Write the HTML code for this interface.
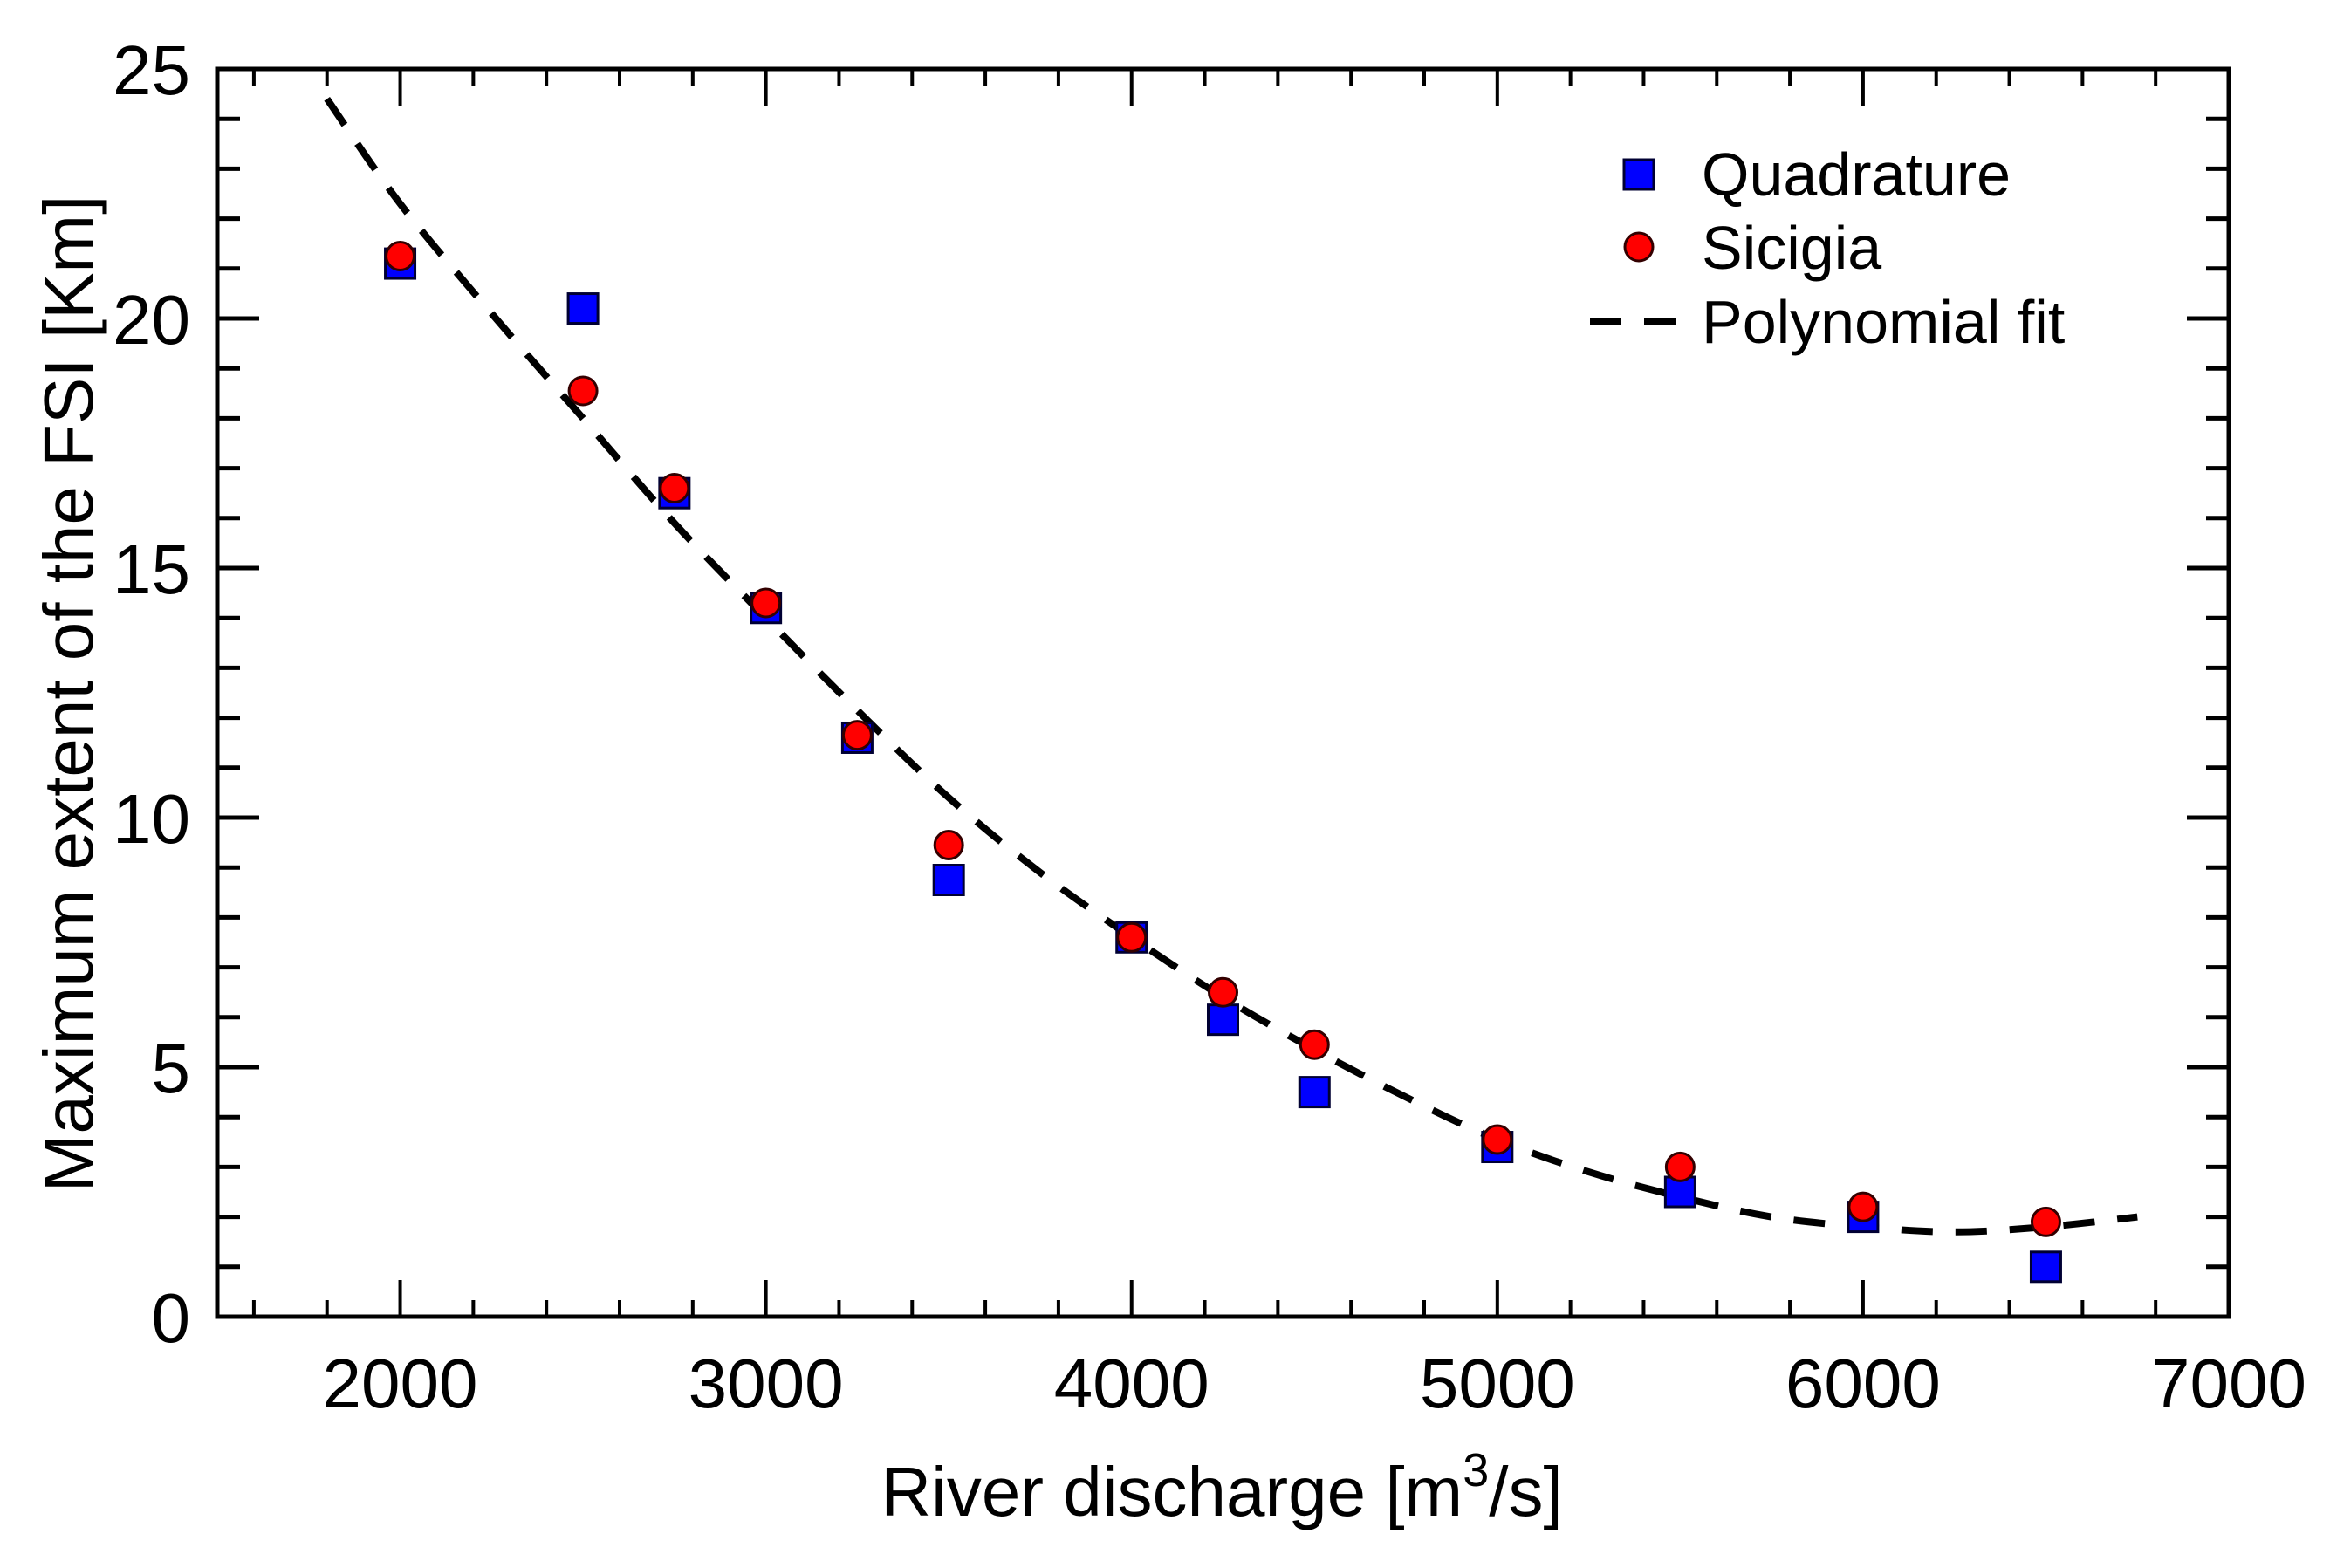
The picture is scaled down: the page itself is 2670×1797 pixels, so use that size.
<!DOCTYPE html>
<html><head><meta charset="utf-8"><style>
html,body{margin:0;padding:0;background:#fff;}
svg{display:block;font-family:"Liberation Sans",Arial,sans-serif;}
</style></head><body>
<svg id="chart" width="2670" height="1797" viewBox="0 0 2670 1797" xmlns="http://www.w3.org/2000/svg">
<g id="grid-ticks"></g>
<path id="fit" fill="none" stroke="#000" stroke-width="8" stroke-dasharray="36,26"></path>
<g id="marks"></g>
<rect x="249" y="79" width="2305" height="1430" fill="none" stroke="#000" stroke-width="5"/>
<g id="labels"></g>
<text x="1400" y="1737" font-size="80" text-anchor="middle">River discharge [m<tspan font-size="54" dy="-34">3</tspan><tspan dy="34">/s]</tspan></text>
<text transform="translate(106,795) rotate(-90)" font-size="80" text-anchor="middle">Maximum extent of the FSI [Km]</text>
<g>
<rect x="1861" y="183" width="34" height="34" fill="#0000ff" stroke="#000033" stroke-width="3"/>
<text x="1950" y="224" font-size="70">Quadrature</text>
<circle cx="1878" cy="283" r="16" fill="#ff0000" stroke="#330000" stroke-width="3"/>
<text x="1950" y="308" font-size="70">Sicigia</text>
<line x1="1822" y1="369" x2="1926" y2="369" stroke="#000" stroke-width="8" stroke-dasharray="36,26"/>
<text x="1950" y="393" font-size="70">Polynomial fit</text>
</g>
</svg>
<script>
const discharge = [2000,2500,2750,3000,3250,3500,4000,4250,4500,5000,5500,6000,6500];
const quadrature = [21.1,20.2,16.5,14.2,11.6,8.75,7.6,5.95,4.5,3.4,2.5,2.0,1.0];
const sicigia = [21.25,18.55,16.6,14.3,11.65,9.45,7.6,6.5,5.45,3.55,3.0,2.2,1.9];
const fitX = [1800,2000,2250,2500,2750,3000,3250,3500,3750,4000,4250,4500,4750,5000,5250,5500,5750,6000,6250,6500,6750];
const fitY = [24.4,22.3,20.1,18.0,15.9,14.0,12.15,10.4,8.9,7.6,6.4,5.35,4.4,3.55,2.9,2.4,2.0,1.8,1.7,1.8,2.0];
const xTickLabels = [2000,3000,4000,5000,6000,7000];
const yTickLabels = [0,5,10,15,20,25];

const NS="http://www.w3.org/2000/svg";
const X0=249,X1=2554,Y0=1509,Y1=79;
const xs=v=>X0+(v-1500)/(7000-1500)*(X1-X0);
const ys=v=>Y0-(v/25)*(Y0-Y1);
function mk(tag,attrs,parent){const e=document.createElementNS(NS,tag);for(const k in attrs)e.setAttribute(k,attrs[k]);parent.appendChild(e);return e;}
const ticks=document.getElementById('grid-ticks');
for(let v=1600;v<7000;v+=200){
  const major=v%1000===0, L=major?42:19;
  const a=mk('line',{x1:xs(v),x2:xs(v),y1:Y0,y2:Y0-L,stroke:'#000','stroke-width':4},ticks);
  
  
  const b=mk('line',{x1:xs(v),x2:xs(v),y1:Y1,y2:Y1+L,stroke:'#000','stroke-width':4},ticks);
  
  
}
for(let v=1;v<25;v++){
  const major=v%5===0, L=major?48:26;
  const a=mk('line',{x1:X0,x2:X0+L,y1:ys(v),y2:ys(v),stroke:'#000','stroke-width':5},ticks);
  
  
  const b=mk('line',{x1:X1,x2:X1-L,y1:ys(v),y2:ys(v),stroke:'#000','stroke-width':5},ticks);
  
  
}
const labels=document.getElementById('labels');
xTickLabels.forEach(v=>{const t=mk('text',{x:xs(v),y:1613,'font-size':80,'text-anchor':'middle'},labels);t.textContent=v;
  
  });
yTickLabels.forEach(v=>{const t=mk('text',{x:218,y:ys(v)+29,'font-size':80,'text-anchor':'end'},labels);t.textContent=v;
  
  });
const P=fitX.map((x,i)=>[xs(x),ys(fitY[i])]);
let d=`M${P[0][0]},${P[0][1]}`;
for(let i=0;i<P.length-1;i++){const p0=P[Math.max(0,i-1)],p1=P[i],p2=P[i+1],p3=P[Math.min(P.length-1,i+2)];
  d+=` C${p1[0]+(p2[0]-p0[0])/6},${p1[1]+(p2[1]-p0[1])/6} ${p2[0]-(p3[0]-p1[0])/6},${p2[1]-(p3[1]-p1[1])/6} ${p2[0]},${p2[1]}`;}
document.getElementById('fit').setAttribute('d',d);
const marks=document.getElementById('marks');
discharge.forEach((x,i)=>{const r=mk('rect',{x:xs(x)-17,y:ys(quadrature[i])-17,width:34,height:34,fill:'#0000ff',stroke:'#000033','stroke-width':3},marks);
  
  });
discharge.forEach((x,i)=>{const c=mk('circle',{cx:xs(x),cy:ys(sicigia[i]),r:16,fill:'#ff0000',stroke:'#330000','stroke-width':3},marks);
  
  });
</script>
</body></html>
